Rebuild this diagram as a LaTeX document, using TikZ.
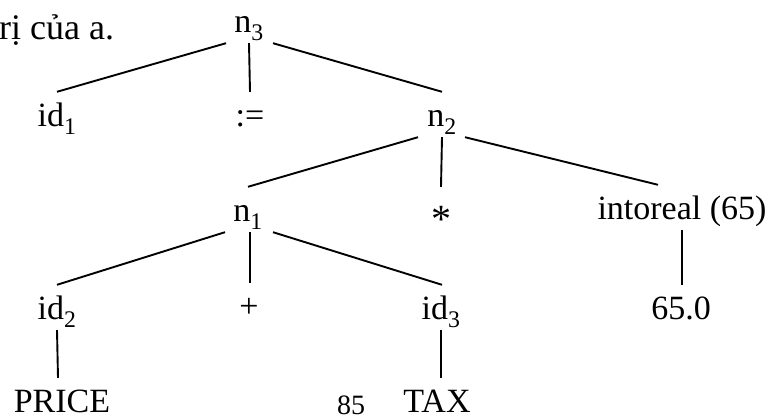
\documentclass[tikz,border=0pt]{standalone}
\usepackage{fontspec}
\setmainfont{Liberation Serif}
\usetikzlibrary{positioning}
\begin{document}
\begin{tikzpicture}[x=1pt,y=-1pt,font=\fontsize{34}{40}\selectfont,
tn/.style={anchor=base,inner sep=0pt,text height=35pt,text depth=10pt},
edge/.style={line width=1.9pt}]
\useasboundingbox (0,0) rectangle (771,419);
\node[anchor=base west,inner sep=0pt,font=\fontsize{36}{40}\selectfont] (prev) at (-1,40) {rị của a.};
\node[tn] (n3) at (249,33) {n\textsubscript{3}};
\node[tn] (id1) at (57,127) {id\textsubscript{1}};
\node[tn] (assign) at (250,127) {:=};
\node[tn] (n2) at (442,127) {n\textsubscript{2}};
\node[tn] (n1) at (248,222) {n\textsubscript{1}};
\node[tn] (mul) at (441,222) {\raisebox{-11pt}{\fontsize{40}{44}\selectfont *}};
\node[tn] (conv) at (682,220) {intoreal (65)};
\node[tn] (id2) at (57,320) {id\textsubscript{2}};
\node[tn] (plus) at (249,318) {+};
\node[tn] (id3) at (441,320) {id\textsubscript{3}};
\node[tn] (real) at (681,320) {65.0};
\node[tn] (price) at (62,413) {PRICE};
\node[tn] (tax) at (437,413) {TAX};
\node[anchor=base,inner sep=0pt,font=\fontsize{28}{32}\selectfont] (page) at (351,414) {85};
\draw[edge] ([xshift=-23pt]n3.south) -- (id1.north);
\draw[edge] (n3.south) -- (assign.north);
\draw[edge] ([xshift=24pt]n3.south) -- (n2.north);
\draw[edge] ([xshift=-24pt]n2.south) -- (n1.north);
\draw[edge] (n2.south) -- (mul.north);
\draw[edge] ([xshift=23pt]n2.south) -- ([xshift=-24pt]conv.north);
\draw[edge] ([xshift=-23pt]n1.south) -- (id2.north);
\draw[edge] ([xshift=2pt]n1.south) -- ([xshift=1pt]plus.north);
\draw[edge] ([xshift=25pt]n1.south) -- ([xshift=1pt]id3.north);
\draw[edge] (conv.south) -- (real.north -| conv.south);
\draw[edge] ([xshift=-4pt]price.north) -- (id2.south);
\draw[edge] ([xshift=4pt]tax.north) -- (id3.south);
\end{tikzpicture}
\end{document}
